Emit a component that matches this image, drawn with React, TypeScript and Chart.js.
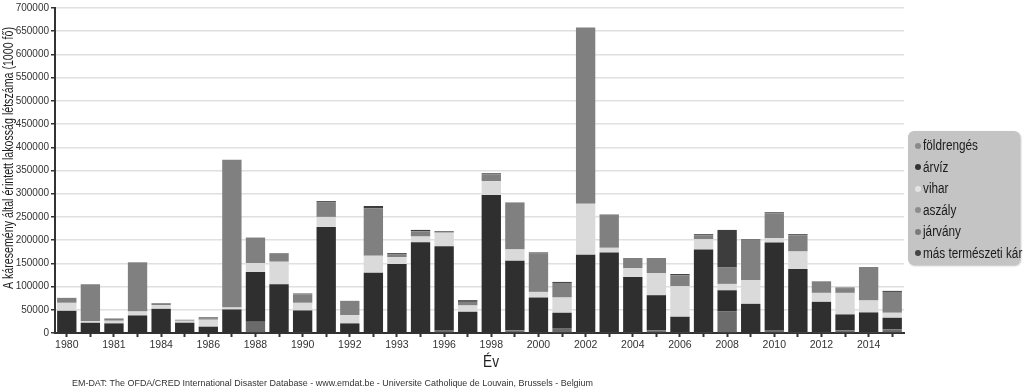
import React, { useEffect, useRef } from 'react';
import { Chart, registerables } from 'chart.js';
Chart.register(...registerables);

const WIDE = "'Liberation Sans', Arial, sans-serif";

const CATEGORIES = ['1980','1981','1982','1983','1984','1985','1986','1987','1988','1989','1990','1991','1992','1993','1994','1995','1996','1997','1998','1999','2000','2001','2002','2003','2004','2005','2006','2007','2008','2009','2010','2011','2012','2013','2014','2015'];
const TICK_LABELS = ['1980','','1981','','1984','','1986','','1988','','1990','','1992','','1993','','1996','','1998','','2000','','2002','','2004','','2006','','2008','','2010','','2012','','2014',''];

const EARTHQUAKE = [0,0,0,0,0,0,0,0,24300,0,2000,0,0,0,0,0,6400,0,1500,5700,2000,9300,2000,2000,1000,5700,1000,1000,47100,1500,6400,1000,1000,5700,1000,7900];
const FLOOD = [47800,22000,20700,37800,52000,22100,13600,50700,107100,105000,46600,228500,20700,130000,148500,195600,180600,45700,295500,149900,74400,34300,166500,171500,119700,75700,34000,179000,44900,61300,188600,136800,66100,34300,43300,24900];
const STORM = [17200,3700,5700,8600,8000,4300,15000,4300,19300,48500,16400,21500,17900,36400,15000,12200,29000,13600,30000,24400,12100,32800,110000,10000,19300,47800,65700,22000,13700,50700,9000,37800,19300,46400,25700,10800];
const DROUGHT = [10700,79300,5000,104600,4300,2200,2800,318400,54900,18500,18500,32000,30700,102100,5500,11200,1500,7800,15000,101300,83500,31400,379500,69300,20000,30800,23300,8600,36300,87100,53800,35000,25000,9300,70000,44900];
const EPIDEMIC = [0,0,0,0,0,0,0,0,0,0,0,0,0,0,0,0,0,0,0,0,0,0,0,0,0,0,0,0,0,0,0,0,0,0,0,0];
const OTHER = [0,0,0,1000,0,0,2200,0,0,0,1500,2000,0,5000,3000,3000,1500,3600,2000,0,1500,2200,0,2200,1400,1400,3000,2200,80000,1400,2200,2200,0,2100,1400,2200];

const SERIES_NAMES = ['földrengés','árvíz','vihar','aszály','járvány','más természeti kár'];
const SERIES_COLORS = ['#6b6b6b','#2f2f2f','#dadada','#808080','#737373','#3d3d3d'];
const LEGEND_DOTS = ['#8a8a8a','#333333','#e4e4e4','#8c8c8c','#7a7a7a','#444444'];

const Y_TITLE = 'A káresemény által érintett lakosság létszáma (1000 fő)';
const X_TITLE = 'Év';
const FOOTER = 'EM-DAT: The OFDA/CRED International Disaster Database - www.emdat.be - Universite Catholique de Louvain, Brussels - Belgium';

const textPlugin = {
  id: 'extraText',
  afterDraw(chart: any) {
    const ctx = chart.ctx as CanvasRenderingContext2D;
    // y title
    ctx.save();
    ctx.translate(8.5, 158);
    ctx.rotate(-Math.PI / 2);
    ctx.font = `15px ${WIDE}`;
    const w = ctx.measureText(Y_TITLE).width;
    ctx.scale(262 / w, 1);
    ctx.textAlign = 'center';
    ctx.textBaseline = 'middle';
    ctx.fillStyle = '#1e1e1e';
    ctx.fillText(Y_TITLE, 0, 0);
    ctx.restore();
    // x title
    ctx.save();
    ctx.font = `17px ${WIDE}`;
    ctx.translate(491, 367);
    ctx.scale(0.8, 1);
    ctx.textAlign = 'center';
    ctx.textBaseline = 'alphabetic';
    ctx.fillStyle = '#1e1e1e';
    ctx.fillText(X_TITLE, 0, 0);
    ctx.restore();
    // footer
    ctx.save();
    ctx.font = `9px ${WIDE}`;
    const fw = ctx.measureText(FOOTER).width;
    ctx.translate(72, 386);
    ctx.scale(521 / fw, 1);
    ctx.textAlign = 'left';
    ctx.textBaseline = 'alphabetic';
    ctx.fillStyle = '#333';
    ctx.fillText(FOOTER, 0, 0);
    ctx.restore();
  },
};

export default function App() {
  const ref = useRef<HTMLCanvasElement>(null);
  useEffect(() => {
    const values = [EARTHQUAKE, FLOOD, STORM, DROUGHT, EPIDEMIC, OTHER];
    const chart = new Chart(ref.current!, {
      type: 'bar',
      data: {
        labels: CATEGORIES,
        datasets: SERIES_NAMES.map((name, i) => ({
          label: name,
          data: values[i],
          backgroundColor: SERIES_COLORS[i],
          borderWidth: 0,
          barPercentage: 0.82,
          categoryPercentage: 1,
        })),
      },
      options: {
        animation: false,
        responsive: false,
        layout: { padding: { top: 7, right: 119, bottom: 0, left: 0 } },
        plugins: { legend: { display: false }, tooltip: { enabled: false } },
        scales: {
          x: {
            stacked: true,
            afterFit: (s: any) => { s.height = 56; },
            grid: { offset: false, drawOnChartArea: false, drawTicks: true, tickLength: 4, tickColor: '#333', tickWidth: 2 },
            border: { color: '#333', width: 2 },
            ticks: {
              autoSkip: false,
              maxRotation: 0,
              padding: 2,
              color: '#333',
              font: { family: WIDE, size: 10.5 },
              callback: (_v: any, i: number) => TICK_LABELS[i],
            },
          },
          y: {
            stacked: true,
            min: 0,
            max: 700000,
            afterFit: (s: any) => { s.width = 55; },
            grid: { color: '#e0e0e0', lineWidth: 1.5, drawTicks: true, tickLength: 4, tickColor: '#333' },
            border: { color: '#333', width: 2 },
            ticks: {
              stepSize: 50000,
              padding: 2,
              color: '#333',
              font: { family: WIDE, size: 10 },
              callback: (v: any) => String(v),
            },
          },
        },
      },
      plugins: [textPlugin],
    });
    return () => chart.destroy();
  }, []);

  return (
    <div style={{ position: 'fixed', left: 0, top: 0, width: 1023, height: 389, background: '#fff' }}>
      <canvas ref={ref} width={1023} height={389} style={{ display: 'block' }} />
      <div style={{ position: 'absolute', left: 908, top: 131, width: 112, height: 134, background: '#c4c4c4', borderRadius: 6, boxShadow: '1px 1px 2px rgba(0,0,0,0.25)', paddingTop: 4, boxSizing: 'border-box' }}>
        {SERIES_NAMES.map((n, i) => (
          <div key={n} style={{ height: 21.5, lineHeight: '21.5px', display: 'flex', alignItems: 'center', fontFamily: WIDE, fontSize: 14, color: '#1a1a1a', whiteSpace: 'nowrap' }}>
            <span style={{ display: 'inline-block', width: 6, height: 6, borderRadius: 3, background: LEGEND_DOTS[i], marginLeft: 7, marginRight: 2, flex: 'none' }} />
            <span style={{ display: 'inline-block', transform: 'scaleX(0.84)', transformOrigin: 'left center' }}>{n}</span>
          </div>
        ))}
      </div>
    </div>
  );
}
